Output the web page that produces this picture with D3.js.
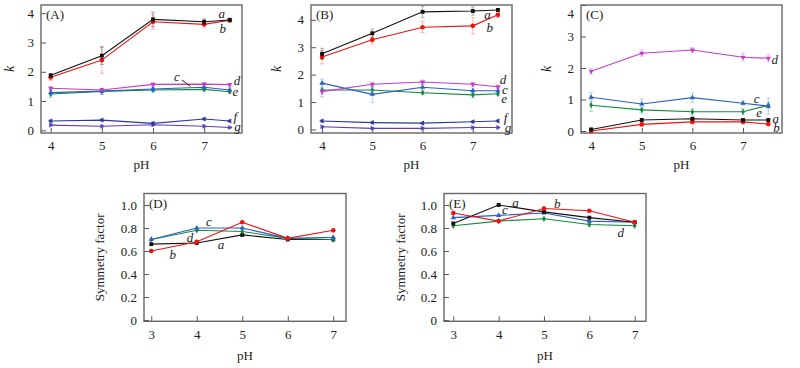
<!DOCTYPE html>
<html><head><meta charset="utf-8">
<script src="https://cdn.jsdelivr.net/npm/d3@7/dist/d3.min.js"></script>
<style>body{margin:0;background:#fff}svg{display:block}text{font-family:"Liberation Serif","Times New Roman",serif;fill:#222}</style>
</head><body><svg id="c" width="800" height="368"></svg>
<script>
// ---------- data ----------
const pHk = [4, 5, 6, 7, 7.5];
const pHs = [3, 4, 5, 6, 7];
const kTicks = [0, 1, 2, 3, 4];
const sfTicks = [0, 0.2, 0.4, 0.6, 0.8, 1.0];

// Panel A
const A_a = [1.88, 2.55, 3.79, 3.71, 3.77];
const A_b = [1.81, 2.40, 3.71, 3.62, 3.76];
const A_c = [1.29, 1.34, 1.41, 1.47, 1.38];
const A_d = [1.44, 1.38, 1.57, 1.58, 1.56];
const A_e = [1.24, 1.33, 1.38, 1.40, 1.32];
const A_f = [0.32, 0.35, 0.24, 0.39, 0.32];
const A_g = [0.18, 0.14, 0.19, 0.14, 0.10];
const A_aErr = [0.05, 0.30, 0.25, 0.10, 0.05];
const A_bErr = [0.10, 0.45, 0.25, 0.10, 0.08];
const A_cErr = [0.08, 0.10, 0.08, 0.08, 0.08];
const A_dErr = [0.05, 0.05, 0.05, 0.05, 0.05];
const A_eErr = [0.12, 0.10, 0.08, 0.08, 0.06];
const A_fErr = [0.05, 0.04, 0.05, 0.05, 0.04];
const A_gErr = [0.04, 0.04, 0.04, 0.04, 0.03];

// Panel B
const B_a = [2.76, 3.51, 4.29, 4.32, 4.36];
const B_b = [2.64, 3.27, 3.73, 3.78, 4.18];
const B_c = [1.69, 1.28, 1.54, 1.41, 1.41];
const B_d = [1.38, 1.65, 1.73, 1.65, 1.56];
const B_e = [1.44, 1.44, 1.34, 1.26, 1.30];
const B_f = [0.31, 0.25, 0.23, 0.28, 0.31];
const B_g = [0.10, 0.04, 0.04, 0.07, 0.07];
const B_aErr = [0.20, 0.15, 0.20, 0.15, 0.05];
const B_bErr = [0.25, 0.15, 0.20, 0.30, 0.10];
const B_cErr = [0.15, 0.30, 0.10, 0.10, 0.10];
const B_dErr = [0.10, 0.08, 0.08, 0.08, 0.06];
const B_eErr = [0.25, 0.10, 0.06, 0.10, 0.06];
const B_fErr = [0.05, 0.05, 0.05, 0.05, 0.05];
const B_gErr = [0.04, 0.04, 0.04, 0.04, 0.04];

// Panel C
const C_a = [0.05, 0.35, 0.39, 0.35, 0.35];
const C_b = [0.00, 0.21, 0.29, 0.29, 0.22];
const C_c = [1.07, 0.86, 1.06, 0.88, 0.79];
const C_d = [1.90, 2.47, 2.57, 2.34, 2.31];
const C_e = [0.82, 0.67, 0.61, 0.61, 0.82];
const C_aErr = [0.04, 0.04, 0.05, 0.04, 0.04];
const C_bErr = [0.04, 0.05, 0.06, 0.06, 0.05];
const C_cErr = [0.15, 0.15, 0.15, 0.06, 0.25];
const C_dErr = [0.10, 0.10, 0.08, 0.12, 0.12];
const C_eErr = [0.20, 0.10, 0.10, 0.10, 0.10];

// Panel D (symmetry factor)
const D_a = [0.66, 0.67, 0.74, 0.70, 0.70];
const D_b = [0.60, 0.68, 0.85, 0.71, 0.78];
const D_c = [0.70, 0.80, 0.80, 0.71, 0.72];
const D_d = [0.70, 0.78, 0.77, 0.71, 0.70];

// Panel E (symmetry factor)
const E_a = [0.84, 1.00, 0.94, 0.89, 0.85];
const E_b = [0.93, 0.86, 0.97, 0.95, 0.85];
const E_c = [0.89, 0.91, 0.93, 0.86, 0.85];
const E_d = [0.82, 0.86, 0.88, 0.83, 0.82];

// series styles
const styles = {
  a: {color: "#111111", sym: d3.symbolSquare, rot: 0, size: 15},
  b: {color: "#ee1111", sym: d3.symbolCircle, rot: 0, size: 17},
  c: {color: "#2a5fc4", sym: d3.symbolTriangle, rot: 0, size: 12},
  d: {color: "#c23ec4", sym: d3.symbolTriangle, rot: 180, size: 12},
  e: {color: "#138a3e", sym: d3.symbolDiamond, rot: 0, size: 11},
  f: {color: "#2c3a92", sym: d3.symbolTriangle, rot: -90, size: 11},
  g: {color: "#5a3ec4", sym: d3.symbolTriangle, rot: 90, size: 11}
};

const panels = [
  {id: "(A)", box: [41, 5, 242, 133], xd: [3.81, 7.74], yd: [-0.09, 4.28], xs: pHk, xt: [4,5,6,7], yt: kTicks, ytitle: "k",
   series: {a: [A_a, A_aErr], b: [A_b, A_bErr], c: [A_c, A_cErr], d: [A_d, A_dErr], e: [A_e, A_eErr], f: [A_f, A_fErr], g: [A_g, A_gErr]},
   order: ["g","f","e","c","d","b","a"],
   labels: [["a",7.346,3.98],["b",7.366,3.45],["c",6.466,1.83],["d",7.64,1.68],["e",7.612,1.30],["f",7.607,0.45],["g",7.652,0.11]],
   leader: [6.563,1.72,6.726,1.515], ytx: 10, xty: 165},
  {id: "(B)", box: [311, 5, 512, 133], xd: [3.78, 7.78], yd: [-0.13, 4.54], xs: pHk, xt: [4,5,6,7], yt: kTicks, ytitle: "k",
   series: {a: [B_a, B_aErr], b: [B_b, B_bErr], c: [B_c, B_cErr], d: [B_d, B_dErr], e: [B_e, B_eErr], f: [B_f, B_fErr], g: [B_g, B_gErr]},
   order: ["g","f","e","c","d","b","a"],
   labels: [["a",7.293,4.18],["b",7.339,3.69],["d",7.603,1.80],["c",7.637,1.45],["e",7.623,1.12],["f",7.65,0.42],["g",7.70,0.06]],
   ytx: 277, xty: 165},
  {id: "(C)", box: [581, 5, 782, 133], xd: [3.80, 7.77], yd: [-0.063, 4.0], xs: pHk, xt: [4,5,6,7], yt: kTicks, ytitle: "k",
   series: {a: [C_a, C_aErr], b: [C_b, C_bErr], c: [C_c, C_cErr], d: [C_d, C_dErr], e: [C_e, C_eErr]},
   order: ["e","c","d","b","a"],
   labels: [["d",7.629,2.25],["c",7.268,1.01],["e",7.319,0.58],["a",7.648,0.39],["b",7.662,0.08]],
   ytx: 547, xty: 165},
  {id: "(D)", box: [144, 193.5, 346, 321.3], xd: [2.84, 7.28], yd: [-0.011, 1.10], xs: pHs, xt: pHs, yt: sfTicks, ytitle: "Symmetry factor",
   series: {a: [D_a], b: [D_b], c: [D_c], d: [D_d]},
   order: ["a","d","c","b"], greenD: true,
   labels: [["c",4.269,0.852],["d",3.851,0.713],["a",4.532,0.652],["b",3.471,0.565]],
   ytx: 100, xty: 356},
  {id: "(E)", box: [444, 193.5, 646, 321.3], xd: [2.795, 7.25], yd: [-0.011, 1.10], xs: pHs, xt: pHs, yt: sfTicks, ytitle: "Symmetry factor",
   series: {a: [E_a], b: [E_b], c: [E_c], d: [E_d]},
   order: ["d","c","a","b"], greenD: true,
   labels: [["a",4.372,1.017],["c",4.14,0.957],["b",5.293,1.009],["d",6.691,0.754]],
   ytx: 401, xty: 356}
];

const svg = d3.select("#c");

panels.forEach(p => {
  const [x0, y0, x1, y1] = p.box;
  const x = d3.scaleLinear().domain(p.xd).range([x0, x1]);
  const y = d3.scaleLinear().domain(p.yd).range([y1, y0]);
  const g = svg.append("g");
  const isSF = p.ytitle !== "k";
  const fmt = isSF ? (v => v === 0 ? "0" : d3.format(".1f")(v)) : d3.format("d");

  // axes (inward ticks)
  const xa = g.append("g").attr("transform", `translate(0,${y1})`)
    .call(d3.axisBottom(x).tickValues(p.xt).tickFormat(d3.format("d")).tickSizeInner(-5).tickSizeOuter(0).tickPadding(8));
  const ya = g.append("g").attr("transform", `translate(${x0},0)`)
    .call(d3.axisLeft(y).tickValues(p.yt).tickFormat(fmt).tickSizeInner(-5).tickSizeOuter(0).tickPadding(7));
  [xa, ya].forEach(a => {
    a.select(".domain").remove();
    a.selectAll("line").attr("stroke", "#555").attr("stroke-width", 1);
    a.selectAll("text").attr("font-size", 13).attr("fill", "#222")
      .style("font-family", '"Liberation Serif", "Times New Roman", serif');
  });
  // keep top label inside
  ya.selectAll(".tick").each(function(v) {
    const ty = y(v);
    if (ty < y0 + 8) d3.select(this).select("text").attr("dy", `${(y0 + 8 - ty) + 4.5}px`);
  });

  // frame
  g.append("rect").attr("x", x0).attr("y", y0).attr("width", x1 - x0).attr("height", y1 - y0)
    .attr("fill", "none").attr("stroke", "#666").attr("stroke-width", 1.4);

  // series
  p.order.forEach(key => {
    const st = Object.assign({}, styles[key]);
    if (p.greenD && key === "d") { st.color = styles.e.color; st.sym = d3.symbolDiamond; st.rot = 0; st.size = 12; }
    const [vals, errs] = p.series[key];
    const pts = p.xs.map((xv, i) => ({x: xv, y: vals[i], e: errs ? errs[i] : 0}));
    const sg = g.append("g");
    if (errs) {
      pts.forEach(d => {
        const eg = sg.append("g").attr("stroke", st.color).attr("stroke-opacity", 0.3).attr("stroke-width", 1);
        eg.append("line").attr("x1", x(d.x)).attr("x2", x(d.x)).attr("y1", y(d.y - d.e)).attr("y2", y(d.y + d.e));
        eg.append("line").attr("x1", x(d.x) - 2).attr("x2", x(d.x) + 2).attr("y1", y(d.y - d.e)).attr("y2", y(d.y - d.e));
        eg.append("line").attr("x1", x(d.x) - 2).attr("x2", x(d.x) + 2).attr("y1", y(d.y + d.e)).attr("y2", y(d.y + d.e));
      });
    }
    sg.append("path").datum(pts)
      .attr("d", d3.line().x(d => x(d.x)).y(d => y(d.y)))
      .attr("fill", "none").attr("stroke", st.color).attr("stroke-width", 1.1);
    sg.selectAll("path.m").data(pts).enter().append("path").attr("class", "m")
      .attr("d", d3.symbol().type(st.sym).size(st.size))
      .attr("transform", d => `translate(${x(d.x)},${y(d.y)}) rotate(${st.rot})`)
      .attr("fill", st.color);
  });

  // series labels
  p.labels.forEach(([t, lx, ly]) => {
    g.append("text").attr("x", x(lx)).attr("y", y(ly)).attr("dy", "0.3em")
      .attr("text-anchor", "middle").attr("font-style", "italic").attr("font-size", 13).text(t);
  });
  if (p.leader) {
    const [a1, b1, a2, b2] = p.leader;
    g.append("line").attr("x1", x(a1)).attr("y1", y(b1)).attr("x2", x(a2)).attr("y2", y(b2))
      .attr("stroke", "#222").attr("stroke-width", 1);
  }

  // panel id
  g.append("text").attr("x", x0 + 5).attr("y", y0 + 10).attr("dy", "0.32em").attr("font-size", 13).text(p.id);

  // axis titles
  g.append("text").attr("x", (x0 + x1) / 2).attr("y", p.xty).attr("dy", "0.32em")
    .attr("text-anchor", "middle").attr("font-size", 13).text("pH");
  const cy = (y0 + y1) / 2;
  g.append("text").attr("transform", `translate(${p.ytx},${cy}) rotate(-90)`).attr("dy", "0.32em")
    .attr("text-anchor", "middle").attr("font-size", isSF ? 13 : 14)
    .attr("font-style", isSF ? "normal" : "italic").text(p.ytitle);
});
</script></body></html>
